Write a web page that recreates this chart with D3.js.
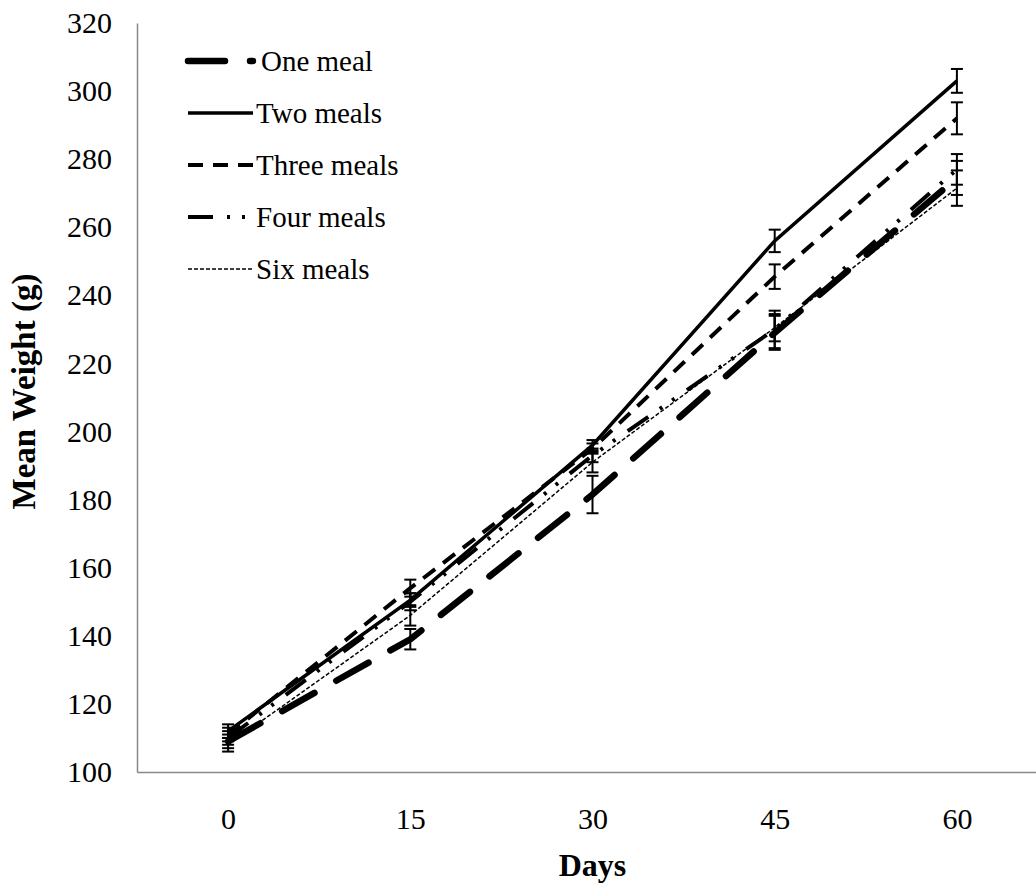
<!DOCTYPE html>
<html lang="en">
<head>
<meta charset="UTF-8">
<script src="https://cdn.jsdelivr.net/npm/d3@7/dist/d3.min.js"></script>
<title>Mean Weight</title>
<style>
  body { margin: 0; background: #fff; }
  text { font-family: "Liberation Serif", "Times New Roman", serif; fill: #000; }
</style>
</head>
<body>
<script>
var width = 1036;
var height = 886;

// data
var days = [0, 15, 30, 45, 60];
var seriesNames = ["One meal", "Two meals", "Three meals", "Four meals", "Six meals"];
var oneMeal = [109, 139, 181.5, 229, 274.5];
var oneErr = [2, 3, 5.5, 5, 5];
var twoMeals = [112, 150.5, 196, 256, 303];
var twoErr = [2, 2, 1.5, 3.3, 3.5];
var threeMeals = [111, 154, 195, 245.5, 292];
var threeErr = [2, 2.5, 1.5, 3.6, 4.7];
var fourMeals = [110, 150, 193, 230, 277];
var fourErr = [2, 2.5, 2, 5.5, 4.5];
var sixMeals = [108, 146, 191, 230.5, 271.5];
var sixErr = [2, 3, 3, 4, 5.2];
var yTicks = [100, 120, 140, 160, 180, 200, 220, 240, 260, 280, 300, 320];

var values = [oneMeal, twoMeals, threeMeals, fourMeals, sixMeals];
var errors = [oneErr, twoErr, threeErr, fourErr, sixErr];

// line styles per series
var styles = [
  { w: 6.5, dash: "37,25", cap: "round" },
  { w: 3.5, dash: null, cap: "butt" },
  { w: 4, dash: "15,10", cap: "butt" },
  { w: 4, dash: "25,14,3,12,3,15", cap: "butt" },
  { w: 1.5, dash: "4,2", cap: "butt" }
];

var plotLeft = 137, plotRight = 1048, plotTop = 23, plotBottom = 772;

var x = d3.scalePoint().domain(days).range([plotLeft, plotRight]).padding(0.5);
var y = d3.scaleLinear().domain([100, 320]).range([plotBottom, plotTop]);

var svg = d3.select("body").append("svg").attr("width", width).attr("height", height);

// axes
var yAxis = svg.append("g").attr("transform", "translate(" + plotLeft + ",0)")
  .call(d3.axisLeft(y).tickValues(yTicks).tickSize(0).tickSizeOuter(0).tickPadding(25));
yAxis.select(".domain").attr("stroke", "#898989").attr("stroke-width", 1.5);
yAxis.selectAll("text").style("font-size", "30px");

var xAxis = svg.append("g").attr("transform", "translate(0," + plotBottom + ")")
  .call(d3.axisBottom(x).tickSize(0).tickSizeOuter(0));
xAxis.select(".domain").attr("stroke", "#898989").attr("stroke-width", 1.5);
xAxis.selectAll("text").style("font-size", "30px").attr("y", 57).attr("dy", 0);

// axis titles
svg.append("text")
  .attr("transform", "translate(35," + ((plotTop + plotBottom) / 2 - 6) + ") rotate(-90)")
  .attr("text-anchor", "middle")
  .style("font-size", "33px").style("font-weight", "bold")
  .text("Mean Weight (g)");

svg.append("text")
  .attr("x", (plotLeft + plotRight) / 2).attr("y", 876)
  .attr("text-anchor", "middle")
  .style("font-size", "32px").style("font-weight", "bold")
  .text("Days");

// lines
var line = d3.line().x(function (d, i) { return x(days[i]); }).y(function (d) { return y(d); });

values.forEach(function (vals, s) {
  svg.append("path").datum(vals)
    .attr("d", line)
    .attr("fill", "none")
    .attr("stroke", "#000")
    .attr("stroke-width", styles[s].w)
    .attr("stroke-dasharray", styles[s].dash)
    .attr("stroke-linecap", styles[s].cap);
});

// error bars
values.forEach(function (vals, s) {
  var g = svg.append("g").attr("stroke", "#000").attr("stroke-width", 2);
  vals.forEach(function (v, i) {
    var cx = x(days[i]);
    var e = errors[s][i];
    g.append("line").attr("x1", cx).attr("x2", cx).attr("y1", y(v - e)).attr("y2", y(v + e));
    g.append("line").attr("x1", cx - 6).attr("x2", cx + 6).attr("y1", y(v - e)).attr("y2", y(v - e));
    g.append("line").attr("x1", cx - 6).attr("x2", cx + 6).attr("y1", y(v + e)).attr("y2", y(v + e));
  });
});

// legend
var legend = svg.append("g");
seriesNames.forEach(function (name, s) {
  var ly = 61 + s * 52;
  legend.append("line")
    .attr("x1", 188).attr("x2", 253).attr("y1", ly).attr("y2", ly)
    .attr("stroke", "#000")
    .attr("stroke-width", styles[s].w)
    .attr("stroke-dasharray", styles[s].dash)
    .attr("stroke-linecap", styles[s].cap);
  legend.append("text")
    .attr("x", s === 0 ? 261 : 256).attr("y", ly).attr("dy", "0.35em")
    .style("font-size", "29px")
    .text(name);
});
</script>
</body>
</html>
